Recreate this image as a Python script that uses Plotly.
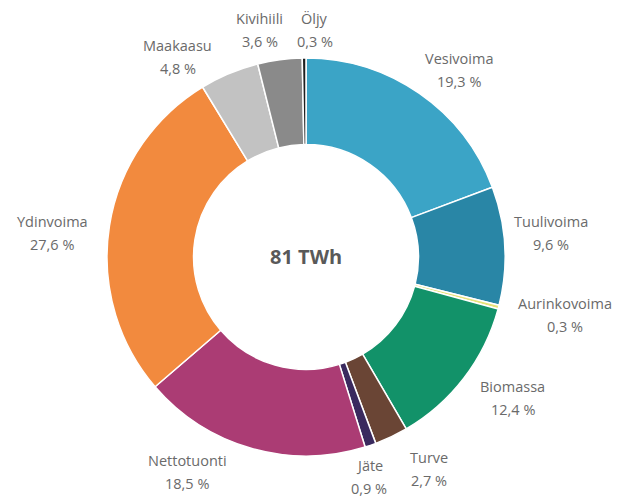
import math
import plotly.graph_objects as go

labels = ["Vesivoima", "Tuulivoima", "Aurinkovoima", "Biomassa", "Turve", "Jäte",
          "Nettotuonti", "Ydinvoima", "Maakaasu", "Kivihiili", "Öljy"]
values = [19.3, 9.6, 0.3, 12.4, 2.7, 0.9, 18.5, 27.6, 4.8, 3.6, 0.3]
total_label = "81 TWh"

# styling
colors = ["#3ba4c6", "#2986a6", "#e6e27a", "#129269", "#6a4535", "#3a2a5e",
          "#ab3c74", "#f28a3e", "#c2c2c2", "#8a8a8a", "#1e1e1e"]
# small pixel nudges of label blocks away from their radial base position
label_nudge = [(13, 14), (0, -10), (22, -4), (12, -8), (18, -9), (-16, -12),
               (-51, -20), (-12, 14), (-34, 26), (-14, 16), (11, 18)]

W, H = 621, 499
OFF = 8  # default page body margin
CX, CY, R = 306 - OFF, 257 - OFF, 199
R_LABEL = 245
FONT = "Open Sans, Lato, sans-serif"
TXT = "#6a6a6a"

fig = go.Figure(go.Pie(
    labels=labels,
    values=values,
    textinfo="none",
    sort=False,
    direction="clockwise",
    rotation=0,
    hole=0.565,
    marker=dict(colors=colors, line=dict(color="white", width=1.5)),
    domain=dict(x=[(CX - R) / W, (CX + R) / W], y=[1 - (CY + R) / H, 1 - (CY - R) / H]),
    showlegend=False,
    hoverinfo="label+value",
))

total = sum(values)
cum = 0.0
for lab, val, (ndx, ndy) in zip(labels, values, label_nudge):
    mid = (cum + val / 2) / total * 2 * math.pi
    cum += val
    px = CX + R_LABEL * math.sin(mid) + ndx
    py = CY - R_LABEL * math.cos(mid) + ndy
    for line, shift in ((lab, 11.5), (f"{str(val).replace('.', ',')} %", -11.5)):
        fig.add_annotation(text=line, x=px / W, y=1 - py / H, xref="paper", yref="paper",
                           yshift=shift, showarrow=False, xanchor="center", yanchor="middle",
                           font=dict(family=FONT, size=14.5, color=TXT))

fig.add_annotation(text=f"<b>{total_label}</b>", x=CX / W, y=1 - (256 - OFF) / H,
                   xref="paper", yref="paper", showarrow=False,
                   font=dict(family=FONT, size=20, color="#595959"))

fig.update_layout(width=W, height=H, margin=dict(l=0, r=0, t=0, b=0),
                  paper_bgcolor="white", plot_bgcolor="white")
fig.write_html("out.html")
